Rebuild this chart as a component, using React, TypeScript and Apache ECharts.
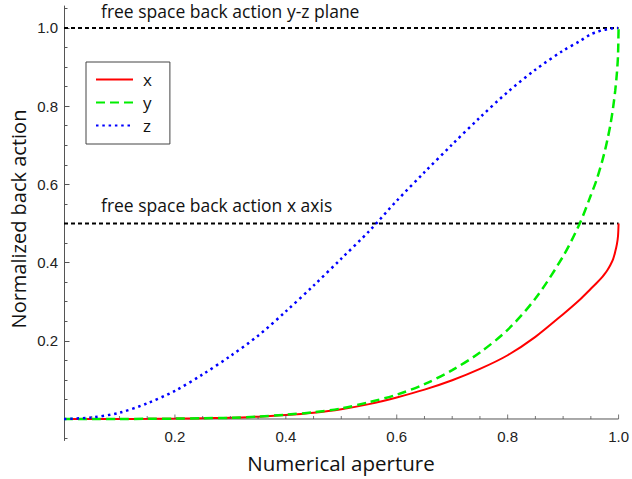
import React, { useEffect, useRef } from "react";
import * as echarts from "echarts";

const numericalAperture = [0, 0.05, 0.1, 0.15, 0.2, 0.25, 0.3, 0.35, 0.4, 0.45, 0.5, 0.55, 0.6, 0.65, 0.7, 0.75, 0.8, 0.85, 0.9, 0.93, 0.95, 0.96, 0.97, 0.975, 0.98, 0.985, 0.99, 0.994, 0.997, 0.999, 1.0];
const xBackAction = [0, 0.00002, 0.0001, 0.0004, 0.001, 0.002, 0.003, 0.006, 0.01, 0.016, 0.025, 0.038, 0.055, 0.075, 0.099, 0.128, 0.163, 0.21, 0.268, 0.305, 0.333, 0.347, 0.362, 0.371, 0.381, 0.393, 0.408, 0.428, 0.447, 0.468, 0.5];
const yBackAction = [0, 0.00002, 0.0001, 0.0004, 0.001, 0.002, 0.003, 0.006, 0.011, 0.017, 0.027, 0.043, 0.062, 0.089, 0.125, 0.17, 0.228, 0.308, 0.416, 0.5, 0.572, 0.61, 0.657, 0.684, 0.715, 0.75, 0.795, 0.84, 0.885, 0.93, 1.0];
const zBackAction = [0, 0.004, 0.016, 0.04, 0.072, 0.114, 0.161, 0.213, 0.275, 0.341, 0.41, 0.48, 0.558, 0.631, 0.702, 0.771, 0.836, 0.893, 0.942, 0.966, 0.984, 0.989, 0.994, 0.995, 0.997, 0.998, 0.999, 1.0, 1.0, 1.0, 1.0];

const seriesNames = ["x", "y", "z"];
const referenceLevels = [1.0, 0.5];
const referenceLabels = ["free space back action y-z plane", "free space back action x axis"];

const xMajorTicks = [0.2, 0.4, 0.6, 0.8, 1.0];
const xMinorTicks = [0.05, 0.1, 0.15, 0.25, 0.3, 0.35, 0.45, 0.5, 0.55, 0.65, 0.7, 0.75, 0.85, 0.9, 0.95];
const yMajorTicks = [0.2, 0.4, 0.6, 0.8, 1.0];
const yMinorTicks = [-0.05, 0.05, 0.1, 0.15, 0.25, 0.3, 0.35, 0.45, 0.5, 0.55, 0.65, 0.7, 0.75, 0.85, 0.9, 0.95, 1.05];

const X_MIN = 0;
const X_MAX = 1;
const Y_MIN = -0.055;
const Y_MAX = 1.056;

const TICK_FONT = "'Liberation Sans', Arial, sans-serif";
const TEXT_FONT = "'Open Sans', 'Noto Sans', sans-serif";
const AXIS_COLOR = "#555";

function pairs(xs: number[], ys: number[]) {
  return xs.map((x, i) => [x, ys[i]]);
}

export default function App() {
  const ref = useRef<HTMLDivElement>(null);

  useEffect(() => {
    if (!ref.current) return;
    const chart = echarts.init(ref.current, undefined, { renderer: "svg" });

    const baseY = {
      type: "value" as const,
      min: Y_MIN,
      max: Y_MAX,
      position: "left" as const,
      splitLine: { show: false },
    };

    const tickSeries = (vals: number[], len: number) => ({
      type: "scatter",
      data: vals.map((v) => [v, 0]),
      symbol: "rect",
      symbolSize: [1, len],
      symbolOffset: [0, -len / 2],
      itemStyle: { color: AXIS_COLOR },
      silent: true,
      z: 4,
    });

    const option: any = {
      animation: false,
      backgroundColor: "#ffffff",
      grid: { left: 64, top: 6, width: 557, bottom: 38.5, containLabel: false },
      xAxis: [
        {
          type: "value",
          min: X_MIN,
          max: X_MAX,
          position: "bottom",
          splitLine: { show: false },
          axisLine: { show: false, onZero: false },
          axisTick: { show: false },
          axisLabel: {
            show: true,
            customValues: xMajorTicks,
            formatter: (v: number) => v.toFixed(1),
            fontFamily: TICK_FONT,
            fontSize: 15,
            color: "#222",
            margin: -12,
          },
        },
      ],
      yAxis: [
        {
          ...baseY,
          axisLine: { show: true, onZero: false, lineStyle: { color: AXIS_COLOR, width: 1 } },
          axisTick: { show: true, inside: true, length: 5.5, customValues: yMajorTicks, lineStyle: { color: AXIS_COLOR } },
          axisLabel: {
            show: true,
            customValues: yMajorTicks,
            formatter: (v: number) => v.toFixed(1),
            fontFamily: TICK_FONT,
            fontSize: 15,
            color: "#222",
            margin: 6,
          },
        },
        {
          ...baseY,
          axisLine: { show: false, onZero: false },
          axisTick: { show: true, inside: true, length: 3.5, customValues: yMinorTicks, lineStyle: { color: AXIS_COLOR } },
          axisLabel: { show: false },
        },
      ],
      legend: {
        data: seriesNames,
        orient: "vertical",
        left: 86,
        top: 62,
        itemWidth: 37,
        itemHeight: 14,
        itemGap: 6,
        padding: [9, 18, 10, 9],
        borderColor: "#444",
        borderWidth: 1,
        backgroundColor: "#fff",
        itemStyle: { opacity: 0, borderWidth: 0 },
        textStyle: { fontFamily: TEXT_FONT, fontSize: 17, color: "#111", padding: [0, 0, 0, 5] },
      },
      series: [
        {
          name: "xaxisline",
          type: "line",
          data: [[X_MIN, 0], [X_MAX, 0]],
          symbol: "none",
          silent: true,
          lineStyle: { color: AXIS_COLOR, width: 1 },
          z: 1,
        },
        tickSeries(xMajorTicks, 4.5),
        tickSeries(xMinorTicks, 3),
        ...referenceLevels.map((lvl, i) => ({
          name: "ref" + i,
          type: "line",
          data: [[X_MIN, lvl], [X_MAX, lvl]],
          symbol: "none",
          silent: true,
          lineStyle: { color: "#000", width: 2, type: [4, 3] },
          z: 1,
        })),
        {
          name: seriesNames[0],
          type: "line",
          data: pairs(numericalAperture, xBackAction),
          symbol: "none",
          smooth: 0.3,
          lineStyle: { color: "#ff0000", width: 2 },
          itemStyle: { color: "#ff0000" },
          z: 3,
        },
        {
          name: seriesNames[1],
          type: "line",
          data: pairs(numericalAperture, yBackAction),
          symbol: "none",
          smooth: 0.3,
          lineStyle: { color: "#00ee00", width: 2.5, type: [9, 5] },
          itemStyle: { color: "#00ee00" },
          z: 3,
        },
        {
          name: seriesNames[2],
          type: "line",
          data: pairs(numericalAperture, zBackAction),
          symbol: "none",
          smooth: 0.3,
          lineStyle: { color: "#0000ff", width: 2.5, type: [2.5, 3.8] },
          itemStyle: { color: "#0000ff" },
          z: 3,
        },
      ],
      graphic: [
        {
          type: "text",
          x: 101,
          y: 11,
          style: { text: referenceLabels[0], fontFamily: TEXT_FONT, fontSize: 17.5, fill: "#111", textVerticalAlign: "middle" },
        },
        {
          type: "text",
          x: 101,
          y: 205,
          style: { text: referenceLabels[1], fontFamily: TEXT_FONT, fontSize: 17.5, fill: "#111", textVerticalAlign: "middle" },
        },
        {
          type: "text",
          x: 341,
          y: 463,
          style: {
            text: "Numerical aperture",
            fontFamily: TEXT_FONT,
            fontSize: 20.5,
            fill: "#111",
            textAlign: "center",
            textVerticalAlign: "middle",
          },
        },
        {
          type: "text",
          x: 18,
          y: 219,
          rotation: Math.PI / 2,
          style: {
            text: "Normalized back action",
            fontFamily: TEXT_FONT,
            fontSize: 20,
            fill: "#111",
            textAlign: "center",
            textVerticalAlign: "middle",
          },
        },
      ],
    };

    chart.setOption(option);
    return () => chart.dispose();
  }, []);

  return (
    <div
      ref={ref}
      style={{ position: "fixed", left: 0, top: 0, width: 632, height: 479, background: "#fff" }}
    />
  );
}
